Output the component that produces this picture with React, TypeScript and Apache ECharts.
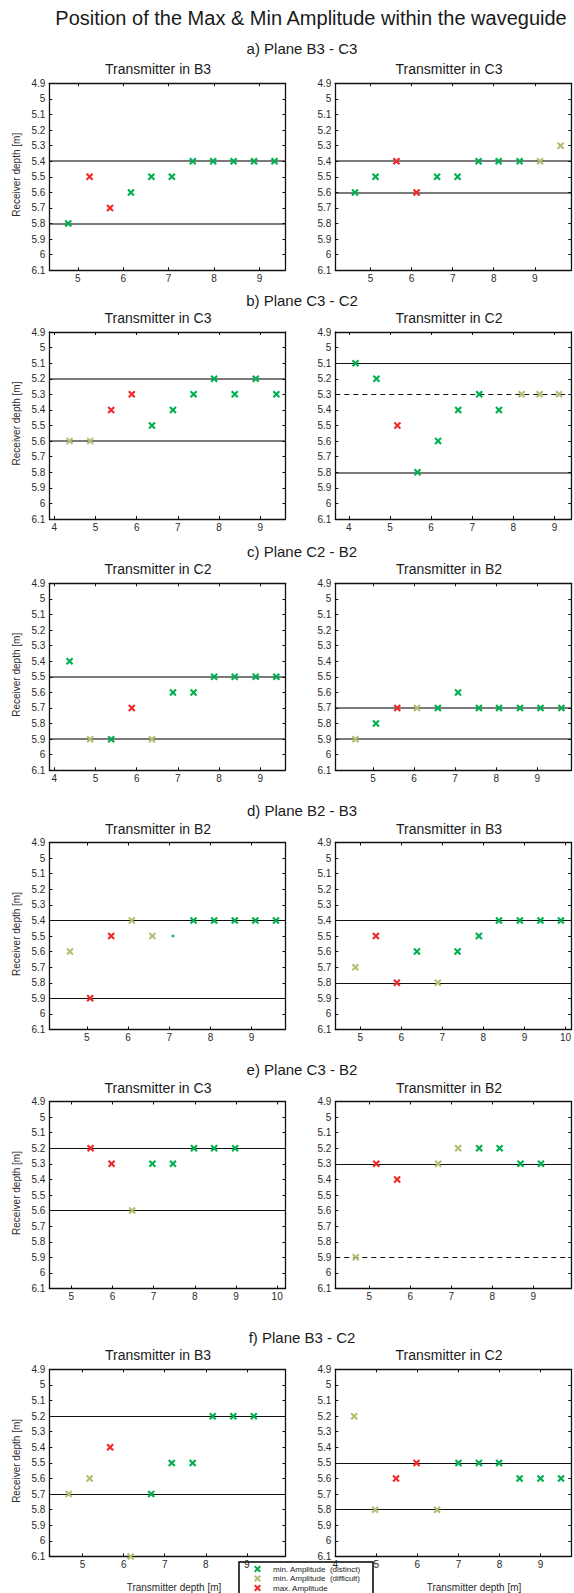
import React, { useEffect, useRef } from 'react';
import * as echarts from 'echarts';

// ---------- tick labels ----------
const xTickValues = [4, 5, 6, 7, 8, 9, 10];
const yTickValues = [4.9, 5, 5.1, 5.2, 5.3, 5.4, 5.5, 5.6, 5.7, 5.8, 5.9, 6, 6.1];

// ---------- titles ----------
const mainTitle = 'Position of the Max & Min Amplitude within the waveguide';
const sectionTitles = [
  'a) Plane B3 - C3',
  'b) Plane C3 - C2',
  'c) Plane C2 - B2',
  'd) Plane B2 - B3',
  'e) Plane C3 - B2',
  'f) Plane B3 - C2',
];
const panelTitles = [
  ['Transmitter in B3', 'Transmitter in C3'],
  ['Transmitter in C3', 'Transmitter in C2'],
  ['Transmitter in C2', 'Transmitter in B2'],
  ['Transmitter in B2', 'Transmitter in B3'],
  ['Transmitter in C3', 'Transmitter in B2'],
  ['Transmitter in B3', 'Transmitter in C2'],
];
const legendNames = ['min. Amplitude  (distinct)', 'min. Amplitude  (difficult)', 'max. Amplitude'];
const legendKinds = ['g', 'o', 'r'];
const yAxisName = 'Receiver depth [m]';
const xAxisName = 'Transmitter depth [m]';

// kinds: g = min distinct, o = min difficult, r = max, p = tiny dot
// reference line kinds: G = grey, K = black, D = dashed black

// a) Plane B3 - C3
const aLeftX = [4.79, 5.26, 5.71, 6.17, 6.62, 7.07, 7.53, 7.98, 8.43, 8.88, 9.33];
const aLeftY = [5.8, 5.5, 5.7, 5.6, 5.5, 5.5, 5.4, 5.4, 5.4, 5.4, 5.4];
const aLeftKind = ['g', 'r', 'r', 'g', 'g', 'g', 'g', 'g', 'g', 'g', 'g'];
const aLeftRef = [5.4, 5.8];
const aLeftRefKind = ['G', 'G'];
const aLeftRange = [4.375, 9.57];

const aRightX = [4.62, 5.12, 5.63, 6.12, 6.62, 7.12, 7.63, 8.12, 8.63, 9.13, 9.63];
const aRightY = [5.6, 5.5, 5.4, 5.6, 5.5, 5.5, 5.4, 5.4, 5.4, 5.4, 5.3];
const aRightKind = ['g', 'g', 'r', 'r', 'g', 'g', 'g', 'g', 'g', 'o', 'o'];
const aRightRef = [5.4, 5.6];
const aRightRefKind = ['G', 'G'];
const aRightRange = [4.14, 9.89];

// b) Plane C3 - C2
const bLeftX = [4.37, 4.87, 5.38, 5.88, 6.37, 6.88, 7.38, 7.88, 8.38, 8.89, 9.39];
const bLeftY = [5.6, 5.6, 5.4, 5.3, 5.5, 5.4, 5.3, 5.2, 5.3, 5.2, 5.3];
const bLeftKind = ['o', 'o', 'r', 'r', 'g', 'g', 'g', 'g', 'g', 'g', 'g'];
const bLeftRef = [5.2, 5.6];
const bLeftRefKind = ['G', 'G'];
const bLeftRange = [3.88, 9.61];

const bRightX = [4.16, 4.67, 5.18, 5.67, 6.17, 6.66, 7.17, 7.65, 8.2, 8.64, 9.11];
const bRightY = [5.1, 5.2, 5.5, 5.8, 5.6, 5.4, 5.3, 5.4, 5.3, 5.3, 5.3];
const bRightKind = ['g', 'g', 'r', 'g', 'g', 'g', 'g', 'g', 'o', 'o', 'o'];
const bRightRef = [5.1, 5.3, 5.8];
const bRightRefKind = ['K', 'D', 'G'];
const bRightRange = [3.67, 9.41];

// c) Plane C2 - B2
const cLeftX = [4.37, 4.87, 5.38, 5.88, 6.37, 6.88, 7.38, 7.88, 8.38, 8.89, 9.39];
const cLeftY = [5.4, 5.9, 5.9, 5.7, 5.9, 5.6, 5.6, 5.5, 5.5, 5.5, 5.5];
const cLeftKind = ['g', 'o', 'g', 'r', 'o', 'g', 'g', 'g', 'g', 'g', 'g'];
const cLeftRef = [5.5, 5.9];
const cLeftRefKind = ['G', 'G'];
const cLeftRange = [3.88, 9.61];

const cRightX = [4.57, 5.07, 5.59, 6.07, 6.58, 7.07, 7.58, 8.07, 8.58, 9.08, 9.59];
const cRightY = [5.9, 5.8, 5.7, 5.7, 5.7, 5.6, 5.7, 5.7, 5.7, 5.7, 5.7];
const cRightKind = ['o', 'g', 'r', 'o', 'g', 'g', 'g', 'g', 'g', 'g', 'g'];
const cRightRef = [5.7, 5.9];
const cRightRefKind = ['G', 'G'];
const cRightRange = [4.08, 9.83];

// d) Plane B2 - B3
const dLeftX = [4.59, 5.08, 5.59, 6.09, 6.59, 7.09, 7.59, 8.09, 8.59, 9.09, 9.59];
const dLeftY = [5.6, 5.9, 5.5, 5.4, 5.5, 5.5, 5.4, 5.4, 5.4, 5.4, 5.4];
const dLeftKind = ['o', 'r', 'r', 'o', 'o', 'p', 'g', 'g', 'g', 'g', 'g'];
const dLeftRef = [5.4, 5.9];
const dLeftRefKind = ['K', 'K'];
const dLeftRange = [4.09, 9.82];

const dRightX = [4.88, 5.38, 5.89, 6.38, 6.89, 7.37, 7.89, 8.38, 8.89, 9.39, 9.89];
const dRightY = [5.7, 5.5, 5.8, 5.6, 5.8, 5.6, 5.5, 5.4, 5.4, 5.4, 5.4];
const dRightKind = ['o', 'r', 'r', 'g', 'o', 'g', 'g', 'g', 'g', 'g', 'g'];
const dRightRef = [5.4, 5.8];
const dRightRefKind = ['K', 'K'];
const dRightRange = [4.39, 10.14];

// e) Plane C3 - B2
const eLeftX = [5.47, 5.98, 6.48, 6.97, 7.47, 7.98, 8.47, 8.98];
const eLeftY = [5.2, 5.3, 5.6, 5.3, 5.3, 5.2, 5.2, 5.2];
const eLeftKind = ['r', 'r', 'o', 'g', 'g', 'g', 'g', 'g'];
const eLeftRef = [5.2, 5.6];
const eLeftRefKind = ['K', 'K'];
const eLeftRange = [4.47, 10.2];

const eRightX = [4.67, 5.17, 5.68, 6.68, 7.17, 7.68, 8.18, 8.69, 9.19];
const eRightY = [5.9, 5.3, 5.4, 5.3, 5.2, 5.2, 5.2, 5.3, 5.3];
const eRightKind = ['o', 'r', 'r', 'o', 'o', 'g', 'g', 'g', 'g'];
const eRightRef = [5.3, 5.9];
const eRightRefKind = ['K', 'D'];
const eRightRange = [4.17, 9.93];

// f) Plane B3 - C2
const fLeftX = [4.66, 5.17, 5.67, 6.17, 6.67, 7.17, 7.68, 8.17, 8.67, 9.17];
const fLeftY = [5.7, 5.6, 5.4, 6.1, 5.7, 5.5, 5.5, 5.2, 5.2, 5.2];
const fLeftKind = ['o', 'o', 'r', 'o', 'g', 'g', 'g', 'g', 'g', 'g'];
const fLeftRef = [5.2, 5.7];
const fLeftRefKind = ['K', 'K'];
const fLeftRange = [4.19, 9.94];

const fRightX = [4.46, 4.97, 5.48, 5.98, 6.48, 7.0, 7.5, 7.99, 8.49, 9.0, 9.5];
const fRightY = [5.2, 5.8, 5.6, 5.5, 5.8, 5.5, 5.5, 5.5, 5.6, 5.6, 5.6];
const fRightKind = ['o', 'o', 'r', 'r', 'o', 'g', 'g', 'g', 'g', 'g', 'g'];
const fRightRef = [5.5, 5.8];
const fRightRefKind = ['K', 'K'];
const fRightRange = [4.0, 9.75];

const panels = [
  { x: aLeftX, y: aLeftY, k: aLeftKind, ref: aLeftRef, refK: aLeftRefKind, range: aLeftRange },
  { x: aRightX, y: aRightY, k: aRightKind, ref: aRightRef, refK: aRightRefKind, range: aRightRange },
  { x: bLeftX, y: bLeftY, k: bLeftKind, ref: bLeftRef, refK: bLeftRefKind, range: bLeftRange },
  { x: bRightX, y: bRightY, k: bRightKind, ref: bRightRef, refK: bRightRefKind, range: bRightRange },
  { x: cLeftX, y: cLeftY, k: cLeftKind, ref: cLeftRef, refK: cLeftRefKind, range: cLeftRange },
  { x: cRightX, y: cRightY, k: cRightKind, ref: cRightRef, refK: cRightRefKind, range: cRightRange },
  { x: dLeftX, y: dLeftY, k: dLeftKind, ref: dLeftRef, refK: dLeftRefKind, range: dLeftRange },
  { x: dRightX, y: dRightY, k: dRightKind, ref: dRightRef, refK: dRightRefKind, range: dRightRange },
  { x: eLeftX, y: eLeftY, k: eLeftKind, ref: eLeftRef, refK: eLeftRefKind, range: eLeftRange },
  { x: eRightX, y: eRightY, k: eRightKind, ref: eRightRef, refK: eRightRefKind, range: eRightRange },
  { x: fLeftX, y: fLeftY, k: fLeftKind, ref: fLeftRef, refK: fLeftRefKind, range: fLeftRange },
  { x: fRightX, y: fRightY, k: fRightKind, ref: fRightRef, refK: fRightRefKind, range: fRightRange },
];

// ---------- layout & style ----------
const W = 574;
const H = 1593;
const ROW_TOP = [83.3, 332, 583.3, 842.5, 1101.5, 1369.4];
const SECTION_Y = [48, 300, 551.3, 810.5, 1069.5, 1337.4];
const COL_LEFT = [49.4, 335.3];
const PW = 236;
const PH = 187;
const FONT = '"Liberation Sans", Arial, Helvetica, sans-serif';
const X_D = 'M2,0 L5,3 L8,0 L10,2 L7,5 L10,8 L8,10 L5,7 L2,10 L0,8 L3,5 L0,2 Z';
const X_PATH = 'path://' + X_D;
const KIND_COLOR: Record<string, string> = { g: '#00b04f', o: '#b6bd72', r: '#f02828', p: '#00b04f' };
const KIND_NAME: Record<string, string> = { g: legendNames[0], o: legendNames[1], r: legendNames[2], p: '' };
const AXIS_COLOR = '#111';
const LABEL_COLOR = '#2a2a2a';

echarts.graphic.registerShape('xmark', echarts.graphic.extendPath(X_D, {}) as any);

function refLineStyle(k: string) {
  if (k === 'G') return { color: '#7a7a7a', width: 2, type: 'solid' };
  if (k === 'D') return { color: '#111', width: 1.1, type: [5, 4] };
  return { color: '#111', width: 1.1, type: 'solid' };
}

function buildOption() {
  const grid: any[] = [];
  const xAxis: any[] = [];
  const yAxis: any[] = [];
  const series: any[] = [];
  const graphic: any[] = [];

  panels.forEach((p, i) => {
    const row = Math.floor(i / 2);
    const col = i % 2;
    const left = COL_LEFT[col];
    const top = ROW_TOP[row];
    grid.push({ left, top, width: PW, height: PH, containLabel: false, show: false });

    const xt = xTickValues.filter((v) => v >= p.range[0] - 1e-9 && v <= p.range[1] + 1e-9);
    ['bottom', 'top'].forEach((pos) => {
      xAxis.push({
        type: 'value',
        gridIndex: i,
        position: pos,
        min: p.range[0],
        max: p.range[1],
        z: 5,
        axisLine: { show: true, onZero: false, lineStyle: { color: AXIS_COLOR, width: 1.3 } },
        axisTick: { show: true, inside: true, length: 3, customValues: xt, lineStyle: { color: AXIS_COLOR, width: 1 } },
        axisLabel: {
          show: pos === 'bottom',
          customValues: xt,
          margin: 3,
          fontSize: 10,
          color: LABEL_COLOR,
          fontFamily: FONT,
        },
        splitLine: { show: false },
      });
    });
    ['left', 'right'].forEach((pos) => {
      yAxis.push({
        type: 'value',
        gridIndex: i,
        position: pos,
        inverse: true,
        min: 4.9,
        max: 6.1,
        z: 5,
        axisLine: { show: true, onZero: false, lineStyle: { color: AXIS_COLOR, width: 1.3 } },
        axisTick: { show: true, inside: true, length: 3, customValues: yTickValues, lineStyle: { color: AXIS_COLOR, width: 1 } },
        axisLabel: {
          show: pos === 'left',
          customValues: yTickValues,
          margin: 4,
          fontSize: 10,
          color: LABEL_COLOR,
          fontFamily: FONT,
        },
        splitLine: { show: false },
      });
    });

    // reference lines
    series.push({
      type: 'scatter',
      xAxisIndex: 2 * i,
      yAxisIndex: 2 * i,
      data: [],
      silent: true,
      markLine: {
        silent: true,
        symbol: ['none', 'none'],
        label: { show: false },
        emphasis: { disabled: true },
        data: p.ref.map((v, j) => ({ yAxis: v, lineStyle: refLineStyle(p.refK[j]) })),
      },
    });

    ['g', 'o', 'r', 'p'].forEach((kind) => {
      const data: number[][] = [];
      p.k.forEach((kk, j) => {
        if (kk === kind) data.push([p.x[j], p.y[j]]);
      });
      if (!data.length) return;
      series.push({
        type: 'scatter',
        name: KIND_NAME[kind] || undefined,
        xAxisIndex: 2 * i,
        yAxisIndex: 2 * i,
        data,
        symbol: kind === 'p' ? 'rect' : X_PATH,
        symbolSize: kind === 'p' ? 2.5 : 7.5,
        itemStyle: { color: KIND_COLOR[kind], opacity: 1 },
        emphasis: { disabled: true },
        silent: true,
        z: 6,
      });
    });

    // panel title
    graphic.push({
      type: 'text',
      x: col === 0 ? 158 : 449,
      y: top - 14,
      style: {
        text: panelTitles[row][col],
        font: `14px ${FONT}`,
        fill: '#1a1a1a',
        textAlign: 'center',
        textVerticalAlign: 'middle',
      },
    });

    if (col === 0) {
      graphic.push({
        type: 'text',
        x: 16,
        y: top + PH / 2 - 2,
        rotation: Math.PI / 2,
        style: {
          text: yAxisName,
          font: `10px ${FONT}`,
          fill: '#2a2a2a',
          textAlign: 'center',
          textVerticalAlign: 'middle',
        },
      });
    }
    if (row === 5) {
      graphic.push({
        type: 'text',
        x: col === 0 ? 174 : 474,
        y: top + PH + 31,
        style: {
          text: xAxisName,
          font: `10px ${FONT}`,
          fill: '#2a2a2a',
          textAlign: 'center',
          textVerticalAlign: 'middle',
        },
      });
    }
  });

  sectionTitles.forEach((t, r) => {
    graphic.push({
      type: 'text',
      x: 302,
      y: SECTION_Y[r],
      style: {
        text: t,
        font: `15px ${FONT}`,
        fill: '#1a1a1a',
        textAlign: 'center',
        textVerticalAlign: 'middle',
      },
    });
  });

  graphic.push({
    type: 'text',
    x: 311,
    y: 17.5,
    style: {
      text: mainTitle,
      font: `20px ${FONT}`,
      fill: '#1a1a1a',
      textAlign: 'center',
      textVerticalAlign: 'middle',
    },
  });

  // legend box (drawn as graphic so that it can run off the bottom edge like the reference)
  const LEG_X = 239;
  const LEG_Y = 1562;
  graphic.push({
    type: 'rect',
    shape: { x: LEG_X, y: LEG_Y, width: 134, height: 44 },
    style: { fill: '#ffffff', stroke: '#000000', lineWidth: 1.5 },
    z: -5,
  });
  legendNames.forEach((n, j) => {
    const cy = LEG_Y + 7 + j * 9.5;
    graphic.push({
      type: 'xmark',
      x: 254,
      y: cy - 3.5,
      scaleX: 0.7,
      scaleY: 0.7,
      style: { fill: KIND_COLOR[legendKinds[j]] },
      z: 1,
    });
    graphic.push({
      type: 'text',
      x: 273,
      y: cy,
      style: {
        text: n,
        font: `8px ${FONT}`,
        fill: '#222',
        textAlign: 'left',
        textVerticalAlign: 'middle',
      },
      z: 1,
    });
  });

  return {
    animation: false,
    backgroundColor: '#ffffff',
    textStyle: { fontFamily: FONT },
    grid,
    xAxis,
    yAxis,
    series,
    graphic,
  };
}

export default function App() {
  const ref = useRef<HTMLDivElement>(null);
  useEffect(() => {
    if (!ref.current) return;
    const chart = echarts.init(ref.current, undefined, { renderer: 'svg', width: W, height: H });
    chart.setOption(buildOption() as any);
    return () => chart.dispose();
  }, []);
  return (
    <div
      ref={ref}
      style={{ position: 'absolute', left: 0, top: 0, width: W, height: H, background: '#fff' }}
    />
  );
}
